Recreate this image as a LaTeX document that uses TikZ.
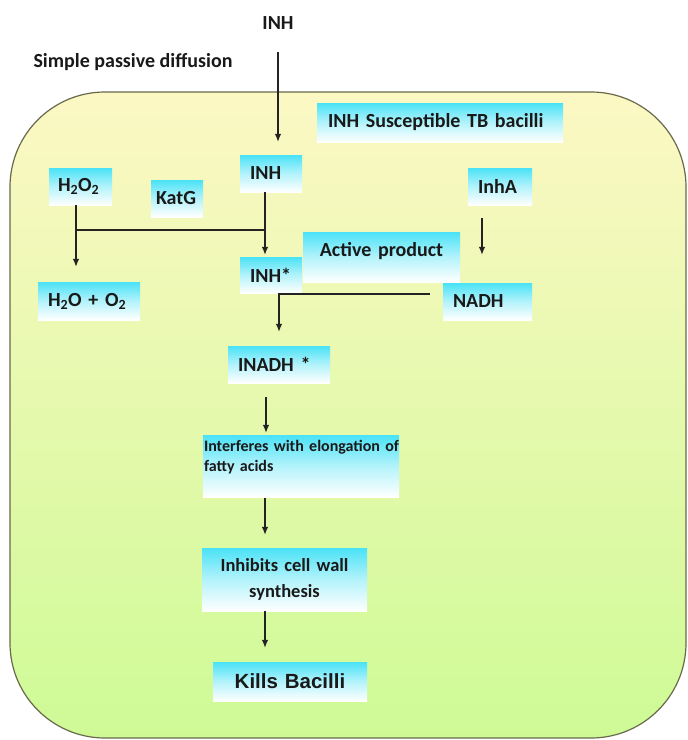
\documentclass[tikz,border=0pt]{standalone}
\usepackage{fontspec}
\setmainfont{Carlito}
\newfontfamily\arialfont{Liberation Sans}
\usetikzlibrary{arrows.meta}
\definecolor{boxcyan}{RGB}{74,226,246}
\definecolor{ytop}{RGB}{252,248,196}
\definecolor{gbot}{RGB}{206,250,150}
\definecolor{bordercol}{RGB}{105,105,75}
\definecolor{txt}{RGB}{25,25,25}
\definecolor{linecol}{RGB}{35,35,35}
\begin{document}
\begin{tikzpicture}[x=1pt,y=1pt,
  box/.style={top color=boxcyan, bottom color=white, middle color=boxcyan!42!white,
    draw=none, inner ysep=0pt, minimum height=#1, text=txt, align=left,
    font=\fontsize{20}{24}\selectfont\bfseries},
  plain/.style={text=txt, font=\fontsize{20}{24}\selectfont\bfseries, inner sep=2pt},
  arr/.style={-{Latex[length=8pt,width=6.5pt]}, line width=1.1pt, draw=linecol},
  ln/.style={line width=1.1pt, draw=linecol},
  outer/.style={rounded corners=95pt, top color=ytop, bottom color=gbot, draw=bordercol, line width=1.2pt}
]
\useasboundingbox (0,0) rectangle (688,-740);
\fill[white] (0,0) rectangle (688,-740);

% cell outline
\draw[outer] (10,-92) rectangle (686,-738);

% free texts
\node[plain] (inhtop) at (278,-23) {INH};
\node[plain] (spd) at (133,-62) {Simple passive diffusion};

% boxes
\node[box=39pt, text width=224pt, inner xsep=11pt] (suscept) at (440,-122.5) {INH Susceptible TB bacilli};
\node[box=37pt, text width=42pt, inner xsep=10pt] (inh) at (271,-173.5) {INH};
\node[box=37pt, text width=45pt, inner xsep=9pt] (h2o2) at (80.5,-186.5) {H\textsubscript{2}O\textsubscript{2}};
\node[box=37pt, text width=42pt, inner xsep=5pt] (katg) at (177,-198.5) {KatG};
\node[box=37pt, text width=44pt, inner xsep=10pt] (inha) at (500,-186.5) {InhA};
\node[box=50pt, text width=137pt, inner xsep=10pt, align=center] (active) at (381.5,-257) {\raisebox{6pt}[\height][\depth]{Active product}};
\node[box=36pt, text width=42pt, inner xsep=10pt] (inhstar) at (271,-275) {INH*};
\node[box=38pt, text width=82pt, inner xsep=10pt] (h2oo2) at (89,-301) {H\textsubscript{2}O + O\textsubscript{2}};
\node[box=37pt, text width=69pt, inner xsep=10pt] (nadh) at (487.5,-301.5) {NADH};
\node[box=37pt, text width=82pt, inner xsep=10pt] (inadh) at (279,-364.5) {INADH *};
\node[box=62pt, text width=194pt, inner xsep=1pt, font=\fontsize{16}{20}\selectfont\bfseries] (interf) at (301,-466) {\raisebox{9pt}[\height][\depth]{\parbox[b]{196pt}{\raggedright Interferes with elongation of\\fatty acids}}};
\node[box=63pt, text width=155pt, inner xsep=5pt, align=center, font=\fontsize{18.5}{26}\selectfont\bfseries] (inhib) at (284.5,-579.5) {Inhibits cell wall\\synthesis};
\node[box=39pt, text width=144pt, inner xsep=5pt, align=center, font=\arialfont\fontsize{20.5}{24}\selectfont\bfseries] (kills) at (290,-681.5) {Kills Bacilli};

% connectors
\coordinate (hx) at (76,-230);
\coordinate (jx) at (265,-230);
\coordinate (ax) at (265,0);

\draw[arr, shorten <=20pt, shorten >=13pt] (inhtop.south) -- (inhtop.south |- inh.north);
\draw[arr, shorten >=2pt] ([xshift=-6pt]inh.south) -- ([xshift=-6pt]inhstar.north);
\draw[arr, shorten >=15pt] ([xshift=-4.5pt]h2o2.south) -- ([xshift=-4.5pt]h2o2.south |- h2oo2.north);
\draw[ln] (hx) -- (jx);
\draw[arr, shorten <=13pt, shorten >=28pt] ([xshift=-18pt]inha.south) -- ([xshift=-18pt]inha.south |- nadh.north);
\draw[arr, shorten <=13pt, shorten >=14pt] ([yshift=7.5pt]nadh.west) -| (inadh.north);
\draw[arr, shorten <=14pt, shorten >=2pt] ([xshift=-13pt]inadh.south) -- ([xshift=-13pt]inadh.south |- interf.north);
\draw[arr, shorten <=1pt, shorten >=13pt] (interf.south -| ax) -- (inhib.north -| ax);
\draw[arr, shorten >=14pt] (inhib.south -| ax) -- (kills.north -| ax);
\end{tikzpicture}
\end{document}
